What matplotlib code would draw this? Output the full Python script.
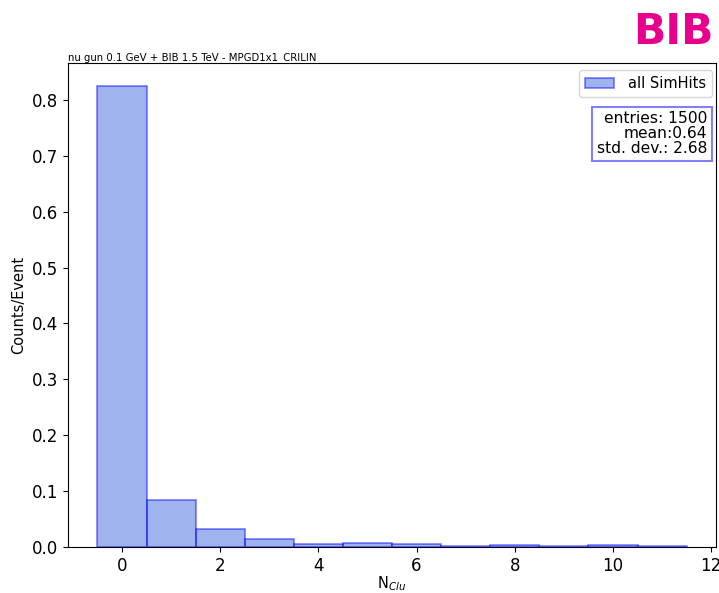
import matplotlib.pyplot as plt
import numpy as np

# bin centres and per-event counts
n_clu = [0, 1, 2, 3, 4, 5, 6, 7, 8, 9, 10, 11]
counts = [0.825, 0.084, 0.032, 0.014, 0.006, 0.008, 0.006, 0.001, 0.004, 0.001, 0.003, 0.001]
bin_edges = np.arange(-0.5, 12.0, 1.0)

fig = plt.figure(figsize=(7.19, 5.93), dpi=100)
ax = fig.add_axes([0.0946, 0.0776, 0.9013, 0.8162])

ax.hist(n_clu, bins=bin_edges, weights=counts, color='royalblue', alpha=0.5,
        edgecolor='blue', linewidth=1.2, label='all SimHits')

ax.set_xlabel(r'N$_{Clu}$', fontsize=10.5, labelpad=0)
ax.set_ylabel('Counts/Event', fontsize=10.5)
ax.tick_params(labelsize=12)
ax.set_title('nu gun 0.1 GeV + BIB 1.5 TeV - MPGD1x1_CRILIN', fontsize=7.3, loc='left', pad=2)

ax.legend(loc='upper right', bbox_to_anchor=(1.0, 0.993), fontsize=10.5,
          handletextpad=1.0, borderaxespad=0.25)
ax.text(0.986, 0.9, 'entries: 1500\nmean:0.64\nstd. dev.: 2.68', transform=ax.transAxes,
        ha='right', va='top', fontsize=11.2, linespacing=1.0,
        bbox=dict(boxstyle='square,pad=0.3', facecolor='white', edgecolor='#8080ff', linewidth=1.5))

fig.text(0.992, 0.982, 'BIB', color='#e6008c', fontsize=30.5, fontweight='bold', ha='right', va='top')

plt.savefig('out.png')
